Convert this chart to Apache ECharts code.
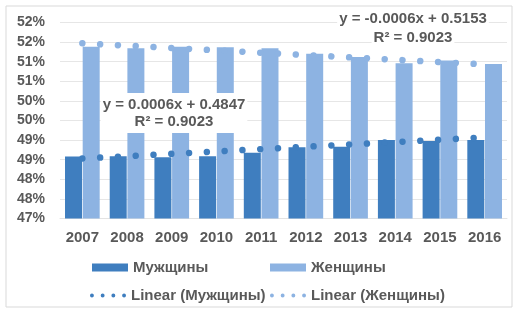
<!DOCTYPE html>
<html><head><meta charset="utf-8">
<script src="https://cdn.jsdelivr.net/npm/echarts@6/dist/echarts.min.js"></script>
<style>html,body{margin:0;padding:0;background:#fff}#c{width:518px;height:313px}</style>
</head><body><div id="c"></div>
<script>
const categories = ['2007','2008','2009','2010','2011','2012','2013','2014','2015','2016'];
const men = [48.58, 48.59, 48.56, 48.59, 48.68, 48.82, 48.83, 49.00, 48.98, 49.00];
const women = [51.38, 51.34, 51.38, 51.37, 51.34, 51.20, 51.12, 50.96, 51.03, 50.94];
const trendMen = [48.53, 49.07];
const trendWomen = [51.47, 50.93];
const yMin = 47, yMax = 52, yStep = 0.5;
const menEq = ['y = 0.0006x + 0.4847', 'R² = 0.9023'];
const womenEq = ['y = -0.0006x + 0.5153', 'R² = 0.9023'];
const names = ['Мужщины', 'Женщины', 'Linear (Мужщины)', 'Linear (Женщины)'];

const FONT = 'Arial, "Liberation Sans", sans-serif';
const TXT = '#595959';
const C_MEN = '#3f7ebf', C_WOMEN = '#8db3e2';
const dotsIcon = 'path://M2,0A2,2,0,1,1,2,4A2,2,0,1,1,2,0Z M13,0A2,2,0,1,1,13,4A2,2,0,1,1,13,0Z M24,0A2,2,0,1,1,24,4A2,2,0,1,1,24,0Z M35,0A2,2,0,1,1,35,4A2,2,0,1,1,35,0Z';

function legendAt(name, left, top, icon, w, h) {
  return {
    data: [{name: name, icon: icon}], left: left, top: top, padding: 0,
    itemWidth: w, itemHeight: h, itemGap: 0, selectedMode: false,
    textStyle: {fontFamily: FONT, fontWeight: 'bold', fontSize: 15, color: TXT, padding: [0,0,0,0]}
  };
}

const chart = echarts.init(document.getElementById('c'), null, {renderer: 'canvas'});
chart.setOption({
  animation: false,
  backgroundColor: '#fff',
  grid: {left: 60, right: 11, top: 22.5, bottom: 94.5, containLabel: false},
  xAxis: {
    type: 'category', data: categories,
    axisLine: {show: true, lineStyle: {color: '#e3e3e3'}},
    axisTick: {show: false},
    axisLabel: {fontFamily: FONT, fontWeight: 'bold', fontSize: 15, color: TXT, margin: 12}
  },
  yAxis: {
    type: 'value', min: yMin, max: yMax, interval: yStep,
    axisLine: {show: false}, axisTick: {show: false},
    splitLine: {lineStyle: {color: '#e6e6e6'}},
    axisLabel: {fontFamily: FONT, fontWeight: 'bold', fontSize: 14, color: TXT, margin: 15,
      formatter: v => Math.round(v) + '%'}
  },
  legend: [
    legendAt(names[0], 92, 260, 'rect', 36, 8),
    legendAt(names[1], 270, 260, 'rect', 36, 8),
    legendAt(names[2], 90, 288, dotsIcon, 36, 5),
    legendAt(names[3], 270, 288, dotsIcon, 36, 5)
  ],
  series: [
    {name: names[0], type: 'bar', data: men, barWidth: 17, barGap: '4%', itemStyle: {color: C_MEN}},
    {name: names[1], type: 'bar', data: women, barWidth: 17, itemStyle: {color: C_WOMEN}},
    {name: names[2], type: 'line', symbol: 'none', z: 5,
      data: [[categories[0], trendMen[0]], [categories[categories.length-1], trendMen[1]]],
      itemStyle: {color: C_MEN},
      lineStyle: {color: C_MEN, width: 6.5, type: [0.01, 17.8], cap: 'round'}},
    {name: names[3], type: 'line', symbol: 'none', z: 5,
      data: [[categories[0], trendWomen[0]], [categories[categories.length-1], trendWomen[1]]],
      itemStyle: {color: C_WOMEN},
      lineStyle: {color: C_WOMEN, width: 6.5, type: [0.01, 17.8], cap: 'round'}}
  ],
  graphic: [
    {type: 'rect', shape: {x: 6, y: 6, width: 506, height: 301}, style: {fill: 'none', stroke: '#d9d9d9', lineWidth: 1}, z: 0, silent: true},
    {type: 'text', x: 174, y: 113, z: 100,
      style: {text: menEq.join('\n'), font: 'bold 15px ' + FONT, fill: TXT, align: 'center', verticalAlign: 'middle',
        lineHeight: 17, backgroundColor: '#fff', padding: [3, 2]}},
    {type: 'text', x: 413, y: 18.5, z: 100,
      style: {text: womenEq[0], font: 'bold 15px ' + FONT, fill: TXT, align: 'center', verticalAlign: 'middle',
        backgroundColor: '#fff', padding: [2, 2]}},
    {type: 'text', x: 413, y: 37.5, z: 100,
      style: {text: womenEq[1], font: 'bold 15px ' + FONT, fill: TXT, align: 'center', verticalAlign: 'middle',
        backgroundColor: '#fff', padding: [2, 2]}}
  ]
});
</script>
</body></html>
